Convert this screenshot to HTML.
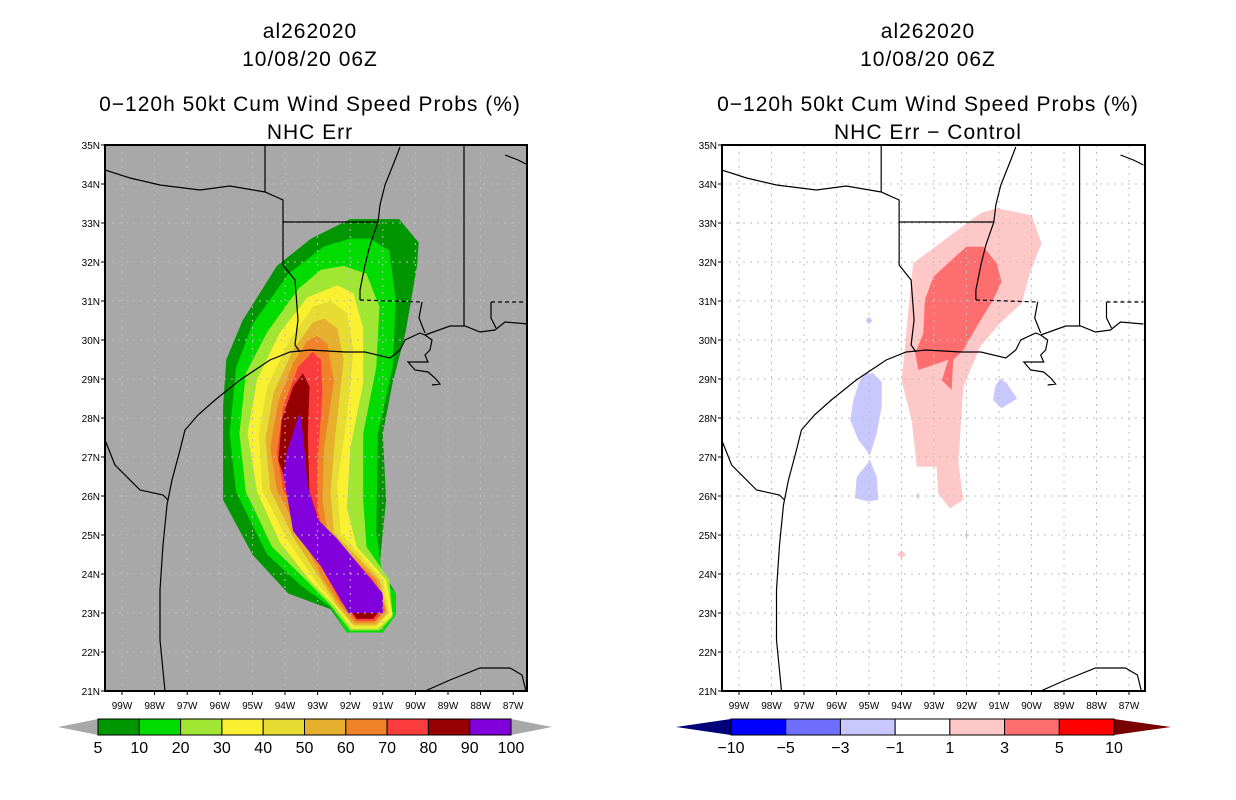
<!DOCTYPE html>
<html><head><meta charset="utf-8"><style>
body{margin:0;background:#fff}
svg{display:block}
text{font-family:"Liberation Sans",sans-serif}
</style></head><body>
<svg id="s" width="1236" height="800" xmlns="http://www.w3.org/2000/svg">
<rect width="1236" height="800" fill="#fff"/>
<defs>
<g id="mapgeo" fill="none" stroke="#000" stroke-width="1.2">
<path d="M165,691 L160,640 L160,590 L163,545 L167,505 L172,480 L180,450 L185,430 L198,415 L215,400 L240,380 L255,370 L270,360 L290,352 L310,350 L345,352 L365,352 L390,358 L400,350 L405,340 L420,333 L425,335"/>
<path d="M425,335 L432,340 L430,350 L425,355 L428,362 L420,362 L408,362 L415,370 L428,372 L435,378 L440,384 L432,385"/>
<path d="M425,335 L450,326 L465,326 L480,332 L495,330 L505,322 L528,324"/>
<path d="M105,440 L115,465 L140,490 L163,495 L168,500"/>
<path d="M105,170 L130,178 L160,185 L200,190 L230,186 L265,192 L283,200 L283,265 L295,280 L298,320 L295,345 L300,352"/>
<path d="M265,145 L265,192"/>
<path d="M283,222 L378,222"/>
<path d="M400,147 L395,160 L385,185 L380,205 L378,222 L370,245 L365,265 L360,290 L360,300"/>
<path d="M360,300 L422,302" stroke-dasharray="4,3"/>
<path d="M422,302 L419,318 L425,333"/>
<path d="M464,145 L464,326"/>
<path d="M491,302 L528,302" stroke-dasharray="4,3"/>
<path d="M491,302 L491,318 L496,328"/>
<path d="M425,691 L450,680 L480,668 L510,668 L522,675 L526,691"/>
<path d="M505,155 L518,160 L528,165"/>
</g>
</defs>
<g id="left"></g>
<g id="right"></g>
</svg>
<script>
const NS="http://www.w3.org/2000/svg";
const probLevels=[5,10,20,30,40,50,60,70,80,90];
const probColors=["#009600","#00dc00","#a0e632","#faf032","#e6dc32","#e6af2d","#f08228","#fa3c3c","#960000","#8200dc"];
const cbLeftLabels=["5","10","20","30","40","50","60","70","80","90","100"];
const c5=[[-92.0,33.1],[-90.5,33.1],[-89.9,32.5],[-89.95,31.9],[-90.3,30.2],[-90.7,28.9],[-91.0,27.6],[-90.9,25.9],[-91.1,24.2],[-90.6,23.5],[-90.6,23.0],[-91.0,22.5],[-92.1,22.5],[-92.6,23.1],[-93.9,23.5],[-95.0,24.5],[-95.9,25.9],[-95.9,28.3],[-95.8,29.5],[-95.3,30.5],[-94.25,31.9],[-93.2,32.6]];
const c10=[[-91.4,32.6],[-90.8,32.3],[-90.6,31.0],[-90.7,29.3],[-91.15,27.6],[-91.2,25.05],[-91.0,23.9],[-90.6,23.5],[-90.6,22.95],[-91.0,22.5],[-92.1,22.5],[-92.6,23.15],[-93.5,23.7],[-94.55,24.5],[-95.5,26.1],[-95.7,27.6],[-95.5,29.3],[-95.0,30.4],[-93.9,31.7],[-92.8,32.4],[-92.0,32.6]];
const c20=[[-92.2,31.9],[-91.5,31.7],[-91.1,30.85],[-91.2,29.3],[-91.6,27.6],[-91.6,25.9],[-91.5,24.7],[-90.8,23.85],[-90.7,22.9],[-91.1,22.55],[-92.0,22.55],[-92.6,23.2],[-93.3,23.8],[-94.4,24.7],[-95.2,26.1],[-95.4,27.6],[-95.2,29.15],[-94.55,30.2],[-93.6,31.3],[-92.9,31.8]];
const c30=[[-92.4,31.4],[-91.9,31.2],[-91.6,30.3],[-91.6,28.9],[-92.0,27.2],[-92.1,25.7],[-91.8,24.7],[-90.9,23.85],[-90.7,22.95],[-91.15,22.6],[-91.95,22.6],[-92.5,23.2],[-93.2,23.8],[-94.15,24.8],[-94.85,26.1],[-95.15,27.6],[-94.85,29.0],[-94.15,30.2],[-93.3,31.1]];
const c40=[[-92.6,31.0],[-92.1,30.7],[-91.9,29.75],[-92.1,28.0],[-92.4,26.3],[-92.3,25.05],[-91.0,23.85],[-90.8,23.0],[-91.2,22.65],[-91.9,22.65],[-92.45,23.2],[-93.05,23.8],[-93.95,24.9],[-94.7,26.15],[-94.8,27.6],[-94.55,28.8],[-93.85,30.0],[-93.15,30.85]];
const c50=[[-92.8,30.55],[-92.4,30.3],[-92.2,29.5],[-92.45,27.6],[-92.6,26.1],[-92.5,25.05],[-91.1,23.85],[-90.85,23.0],[-91.2,22.7],[-91.9,22.7],[-92.4,23.2],[-92.9,23.85],[-93.75,24.95],[-94.45,26.15],[-94.6,27.45],[-94.35,28.65],[-93.75,29.75],[-93.15,30.45]];
const c60=[[-93.0,30.1],[-92.7,29.9],[-92.5,28.95],[-92.8,27.25],[-92.85,25.9],[-92.7,25.05],[-91.2,23.85],[-90.9,23.05],[-91.25,22.75],[-91.85,22.75],[-92.35,23.25],[-92.85,23.9],[-93.55,25.05],[-94.25,26.15],[-94.45,27.25],[-94.2,28.45],[-93.75,29.4],[-93.3,30.0]];
const c70=[[-93.15,29.7],[-92.9,29.5],[-92.85,28.65],[-93.0,26.9],[-93.0,25.65],[-92.85,25.05],[-91.3,23.85],[-90.95,23.1],[-91.25,22.8],[-91.8,22.8],[-92.3,23.3],[-92.7,23.9],[-93.3,25.05],[-94.05,26.15],[-94.25,27.1],[-94.05,28.3],[-93.6,29.3]];
const c80=[[-93.45,29.15],[-93.25,28.8],[-93.3,27.6],[-93.25,26.1],[-92.9,25.2],[-91.4,23.9],[-91.0,23.15],[-91.3,22.85],[-91.8,22.85],[-92.2,23.35],[-92.6,24.0],[-93.25,25.05],[-93.85,26.1],[-94.2,26.9],[-94.1,27.95],[-93.75,28.8]];
const c90=[[-93.55,28.15],[-93.45,27.6],[-93.3,26.25],[-93.0,25.4],[-92.4,24.9],[-91.0,23.5],[-91.0,23.0],[-92.05,23.0],[-92.9,24.2],[-93.75,25.1],[-94.05,26.55],[-93.95,27.1]];
const diffLabels=["\u221210","\u22125","\u22123","\u22121","1","3","5","10"];
const diffColors=["#0000ff","#6e6eff","#c8c8ff","#ffffff","#ffc8c8","#ff6e6e","#ff0000"];
const pos1=[[-91.07,33.38],[-90.0,33.2],[-89.69,32.48],[-90.05,31.71],[-90.3,30.94],[-90.97,30.43],[-91.58,29.83],[-92.1,28.8],[-92.25,26.84],[-92.1,25.9],[-92.51,25.68],[-92.87,26.07],[-92.92,26.75],[-93.53,26.75],[-93.69,27.95],[-94.0,28.97],[-93.89,29.83],[-93.79,30.77],[-93.64,31.97],[-92.82,32.48],[-91.58,33.25]];
const pos1b=[[-93.5,26.1],[-93.45,26.0],[-93.5,25.9],[-93.55,26.0]];
const pos1c=[[-94.0,24.6],[-93.85,24.5],[-94.0,24.4],[-94.15,24.5]];
const pos3=[[-92.0,32.39],[-91.48,32.39],[-91.07,31.97],[-90.92,31.49],[-91.18,31.03],[-91.69,30.34],[-92.1,29.74],[-92.41,29.49],[-92.46,28.72],[-92.76,28.97],[-92.56,29.49],[-93.48,29.23],[-93.58,29.66],[-93.33,30.17],[-93.28,31.03],[-93.02,31.62],[-92.41,32.09]];
const neg1a=[[-95.12,29.15],[-94.87,29.15],[-94.61,28.93],[-94.61,28.29],[-94.76,27.61],[-94.97,27.05],[-95.33,27.44],[-95.58,27.95],[-95.48,28.46],[-95.28,28.97]];
const neg1b=[[-94.97,26.92],[-94.76,26.49],[-94.71,25.9],[-95.02,25.86],[-95.43,25.94],[-95.38,26.49]];
const neg1c=[[-90.97,29.02],[-90.76,28.89],[-90.44,28.5],[-90.92,28.25],[-91.18,28.46],[-91.12,28.8]];
const neg1d=[[-95.0,30.6],[-94.9,30.5],[-95.0,30.4],[-95.1,30.5]];
const neg1e=[[-92.0,25.08],[-91.95,25.0],[-92.0,24.92],[-92.05,25.0]];
const latTicks=[21,22,23,24,25,26,27,28,29,30,31,32,33,34,35];
const lonTicks=[99,98,97,96,95,94,93,92,91,90,89,88,87];

function el(tag,attrs,parent){const e=document.createElementNS(NS,tag);for(const k in attrs)e.setAttribute(k,attrs[k]);parent.appendChild(e);return e;}
function makePanel(g,x0,x1,scaleX,lon99X,bg,cx,sub){
  const Y0=145,Y1=691;
  const X=lon=>lon99X+(lon+99)*scaleX;
  const Y=lat=>Y0+(35-lat)*39;
  const clipId="clip"+x0;
  const cp=el("clipPath",{id:clipId},g);el("rect",{x:x0,y:Y0,width:x1-x0,height:Y1-Y0},cp);
  const bgR=el("rect",{x:x0,y:Y0,width:x1-x0,height:Y1-Y0,fill:bg},g);
  
  
  const inner=el("g",{"clip-path":"url(#"+clipId+")"},g);
  const poly=(pts,fill,name)=>{const p=el("polygon",{points:pts.map(q=>X(q[0]).toFixed(1)+","+Y(q[1]).toFixed(1)).join(" "),fill:fill},inner);
    
    return p;};
  return {X,Y,inner,poly,Y0,Y1,finish(){
    const grid=el("g",{stroke:"#bdbdbd","stroke-width":1,"stroke-dasharray":"2,5"},inner);
    
    
    lonTicks.forEach(l=>el("line",{x1:X(-l),x2:X(-l),y1:Y0,y2:Y1},grid));
    latTicks.forEach(l=>el("line",{x1:x0,x2:x1,y1:Y(l),y2:Y(l)},grid));
    const geo=el("use",{href:"#mapgeo",transform:`translate(${lon99X-122},0) scale(${scaleX/32.6},1) `},inner);
    
    
    const fr=el("rect",{x:x0,y:Y0,width:x1-x0,height:Y1-Y0,fill:"none",stroke:"#000","stroke-width":2},g);
    
    
    latTicks.forEach(l=>{el("line",{x1:x0-4,x2:x0,y1:Y(l),y2:Y(l),stroke:"#000"},g);
      const t=el("text",{x:x0-5,y:Y(l)+4,"font-size":10,"text-anchor":"end"},g);t.textContent=l+"N";
      
      });
    lonTicks.forEach(l=>{el("line",{x1:X(-l),x2:X(-l),y1:Y1,y2:Y1+4,stroke:"#000"},g);
      const t=el("text",{x:X(-l),y:Y1+18,"font-size":10,"text-anchor":"middle"},g);t.textContent=l+"W";
      
      });
    const titles=[["al262020",38],["10/08/20 06Z",66],["0\u2212120h 50kt Cum Wind Speed Probs (%)",111],[sub,139]];
    titles.forEach((tt,i)=>{const t=el("text",{x:cx,y:tt[1],"font-size":21,"text-anchor":"middle","letter-spacing":"1"},g);t.textContent=tt[0];
      
      });
  }};
}
const L=makePanel(document.getElementById("left"),105,527,32.6,122,"#a8a8a8",310,"NHC Err");
[c5,c10,c20,c30,c40,c50,c60,c70,c80,c90].forEach((c,i)=>L.poly(c,probColors[i],"prob-contour-"+probLevels[i]));
L.finish();
const R=makePanel(document.getElementById("right"),722,1145,32.5,739,"#ffffff",928,"NHC Err \u2212 Control");
R.poly(pos1,diffColors[4],"diff-contour-pos1");
R.poly(pos1b,diffColors[4],"diff-spot-pos1");
R.poly(pos1c,diffColors[4],"diff-spot-pos1");
R.poly(pos3,diffColors[5],"diff-contour-pos3");
[neg1a,neg1b,neg1c,neg1d,neg1e].forEach(c=>R.poly(c,diffColors[2],"diff-contour-neg1"));
R.finish();
function colorbar(parent,bx0,bx1,tx0,tx1,colors,labels,lowC,highC,name){
  const g=el("g",{},parent);
  
  
  const y0=719,y1=735,ym=727,n=colors.length,w=(bx1-bx0)/n;
  const lt=el("polygon",{points:`${tx0},${ym} ${bx0},${y0} ${bx0},${y1}`,fill:lowC},g);
  
  
  const rt=el("polygon",{points:`${tx1},${ym} ${bx1},${y0} ${bx1},${y1}`,fill:highC},g);
  
  
  colors.forEach((c,i)=>{const r=el("rect",{x:bx0+i*w,y:y0,width:w,height:y1-y0,fill:c,stroke:"#000","stroke-width":1},g);
    
    });
  labels.forEach((s,i)=>{const t=el("text",{x:bx0+i*w,y:753,"font-size":16,"text-anchor":"middle"},g);t.textContent=s;
    
    });
}
colorbar(document.getElementById("left"),98,511,58,552,probColors,cbLeftLabels,"#a8a8a8","#a8a8a8","prob-colorbar");
colorbar(document.getElementById("right"),731,1114,676,1171,diffColors,diffLabels,"#000078","#780000","diff-colorbar");
</script>
</body></html>
